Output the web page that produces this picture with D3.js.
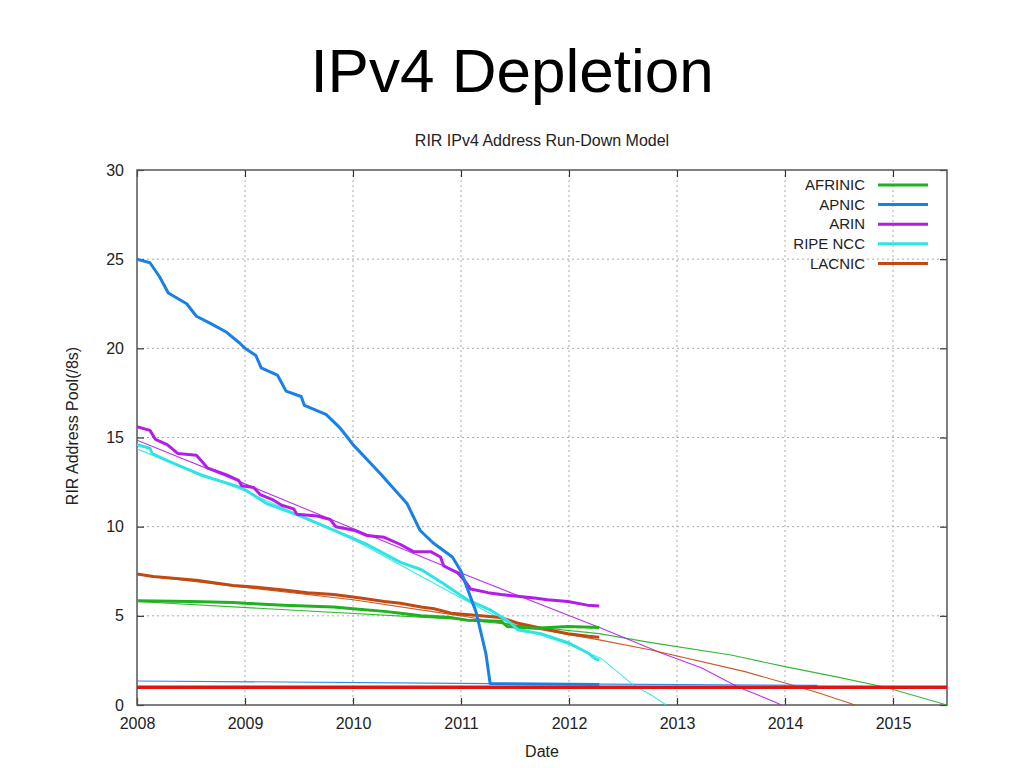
<!DOCTYPE html>
<html><head><meta charset="utf-8">
<script src="https://cdn.jsdelivr.net/npm/d3@7"></script>
<style>
body{margin:0;background:#fff;}
svg{display:block;font-family:"Liberation Sans",Arial,sans-serif;}
</style></head>
<body><svg id="c" width="1024" height="768"></svg>
<script>
// ---- data ----
const xTicks = [2008,2009,2010,2011,2012,2013,2014,2015];
const yTicks = [0,5,10,15,20,25,30];
const seriesNames = ["AFRINIC","APNIC","ARIN","RIPE NCC","LACNIC"];
const seriesColors = ["#1fb11f","#1a7fe6","#b21ee8","#2ee4e4","#c04a12"];

const afrinic = [[2008.0,5.85],[2008.5,5.8],[2008.89,5.75],[2009.0,5.7],[2009.36,5.6],[2009.82,5.5],[2010.0,5.4],[2010.29,5.25],[2010.44,5.15],[2010.63,5.0],[2010.91,4.9],[2011.06,4.75],[2011.37,4.7],[2011.43,4.4],[2011.68,4.3],[2011.99,4.4],[2012.28,4.35]];
const apnic = [[2008.0,25.0],[2008.12,24.8],[2008.21,24.0],[2008.29,23.1],[2008.46,22.5],[2008.55,21.8],[2008.68,21.4],[2008.83,20.9],[2008.95,20.3],[2009.0,20.0],[2009.1,19.6],[2009.15,18.9],[2009.3,18.5],[2009.38,17.6],[2009.52,17.3],[2009.55,16.8],[2009.75,16.3],[2009.87,15.6],[2009.95,15.0],[2010.0,14.6],[2010.25,13.0],[2010.5,11.3],[2010.62,9.8],[2010.74,9.1],[2010.92,8.3],[2011.0,7.5],[2011.14,5.2],[2011.23,2.9],[2011.27,1.2],[2012.28,1.15]];
const arin = [[2008.0,15.6],[2008.12,15.4],[2008.17,14.9],[2008.28,14.6],[2008.38,14.1],[2008.55,14.0],[2008.61,13.6],[2008.65,13.3],[2008.83,12.9],[2008.94,12.6],[2008.97,12.3],[2009.08,12.2],[2009.14,11.8],[2009.26,11.5],[2009.34,11.2],[2009.45,11.0],[2009.48,10.7],[2009.67,10.6],[2009.79,10.4],[2009.84,10.0],[2010.01,9.8],[2010.13,9.5],[2010.29,9.4],[2010.44,9.0],[2010.56,8.6],[2010.72,8.6],[2010.81,8.3],[2010.84,7.8],[2010.97,7.4],[2011.03,7.0],[2011.09,6.5],[2011.25,6.3],[2011.37,6.2],[2011.68,6.0],[2011.80,5.9],[2011.99,5.8],[2012.17,5.6],[2012.28,5.55]];
const ripe = [[2008.0,14.6],[2008.12,14.4],[2008.14,14.1],[2008.28,13.7],[2008.59,12.9],[2008.96,12.2],[2009.02,12.0],[2009.2,11.3],[2009.51,10.6],[2009.82,9.8],[2010.13,9.0],[2010.44,8.0],[2010.63,7.6],[2010.84,6.8],[2010.91,6.5],[2011.06,5.9],[2011.28,5.3],[2011.46,4.6],[2011.53,4.2],[2011.74,4.0],[2011.99,3.5],[2012.18,2.9],[2012.24,2.6],[2012.28,2.5]];
const lacnic = [[2008.0,7.35],[2008.15,7.2],[2008.55,7.0],[2008.89,6.7],[2009.02,6.65],[2009.36,6.45],[2009.58,6.3],[2009.82,6.2],[2010.07,6.0],[2010.29,5.8],[2010.44,5.7],[2010.63,5.5],[2010.75,5.4],[2010.91,5.15],[2011.37,4.9],[2011.52,4.6],[2011.83,4.2],[2011.99,4.0],[2012.18,3.85],[2012.28,3.8]];

// projection (model) curves
const afrinicModel = [[2008.0,5.8],[2011.0,4.8],[2012.28,4.0],[2012.76,3.5],[2013.5,2.8],[2014.0,2.15],[2014.5,1.55],[2014.93,1.0],[2015.5,0.0]];
const apnicModel = [[2008.0,1.35],[2011.27,1.2],[2012.3,1.17],[2014.3,1.1]];
const arinModel = [[2008.0,14.85],[2009.0,12.4],[2010.0,9.9],[2011.0,7.4],[2012.3,4.3],[2012.86,2.9],[2013.23,2.07],[2013.57,1.0],[2013.75,0.56],[2013.97,0.0]];
const ripeModel = [[2008.0,14.35],[2009.0,12.0],[2010.0,9.3],[2011.0,6.0],[2011.5,4.4],[2012.0,3.4],[2012.3,2.6],[2012.6,1.1],[2012.76,0.56],[2012.9,0.0]];
const lacnicModel = [[2008.0,7.3],[2010.0,5.9],[2011.0,5.0],[2012.28,3.65],[2012.76,3.08],[2013.63,1.87],[2014.0,1.23],[2014.3,0.7],[2014.65,0.0]];
const exhaustLevel = [[2008.0,1.0],[2015.5,1.0]];

// ---- layout ----
const svg = d3.select("#c");
const L=137, R=947, T=170, B=705;
const x = d3.scaleLinear().domain([2008,2015.5]).range([L,R]);
const y = d3.scaleLinear().domain([0,30]).range([B,T]);

svg.append("text").attr("x",512).attr("y",92).attr("text-anchor","middle")
  .attr("font-size",62).attr("fill","#000").text("IPv4 Depletion");
svg.append("text").attr("x",(L+R)/2).attr("y",146).attr("text-anchor","middle")
  .attr("font-size",16).attr("fill","#222").text("RIR IPv4 Address Run-Down Model");

// grid
const grid = svg.append("g").attr("stroke","#aaa").attr("stroke-dasharray","2,3").attr("stroke-width",1);
xTicks.filter(d=>d>2008).forEach(d=>grid.append("line").attr("x1",x(d)).attr("x2",x(d)).attr("y1",T).attr("y2",B));
yTicks.filter(d=>d>0 && d<30).forEach(d=>grid.append("line").attr("x1",L).attr("x2",R).attr("y1",y(d)).attr("y2",y(d)));

// axes (inward ticks, mirrored)
const fmt = d3.format("d");
const ax = svg.append("g").attr("transform",`translate(0,${B})`)
  .call(d3.axisBottom(x).tickValues(xTicks).tickFormat(fmt).tickSize(-7).tickPadding(13));
const axT = svg.append("g").attr("transform",`translate(0,${T})`)
  .call(d3.axisTop(x).tickValues(xTicks).tickFormat("").tickSize(-7));
const ay = svg.append("g").attr("transform",`translate(${L},0)`)
  .call(d3.axisLeft(y).tickValues(yTicks).tickFormat(fmt).tickSize(-7).tickPadding(13));
const ayR = svg.append("g").attr("transform",`translate(${R},0)`)
  .call(d3.axisRight(y).tickValues(yTicks).tickFormat("").tickSize(-7));
[ax,axT,ay,ayR].forEach(g=>{
  g.select(".domain").remove();
  g.selectAll("line").attr("stroke","#333").attr("stroke-width",1.2);
  g.selectAll("text").attr("font-size",16).attr("fill","#222").attr("font-family","Liberation Sans, Arial, sans-serif");
});
svg.append("rect").attr("x",L).attr("y",T).attr("width",R-L).attr("height",B-T)
  .attr("fill","none").attr("stroke","#555").attr("stroke-width",1.5);

svg.append("text").attr("x",(L+R)/2).attr("y",757).attr("text-anchor","middle")
  .attr("font-size",16).attr("fill","#222").text("Date");
svg.append("text").attr("transform","translate(78,426) rotate(-90)").attr("text-anchor","middle")
  .attr("font-size",16).attr("fill","#222")
  .text("RIR Address Pool(/8s)");

// lines
const line = d3.line().x(d=>x(d[0])).y(d=>y(d[1]));
const clip = svg.append("clipPath").attr("id","pc").append("rect")
  .attr("x",L).attr("y",T).attr("width",R-L).attr("height",B-T);
const plot = svg.append("g").attr("clip-path","url(#pc)");
const models = [afrinicModel, apnicModel, arinModel, ripeModel, lacnicModel];
const actual = [afrinic, apnic, arin, ripe, lacnic];
models.forEach((m,i)=>plot.append("path").datum(m).attr("d",line)
  .attr("fill","none").attr("stroke",seriesColors[i]).attr("stroke-width",1.1).attr("opacity",0.9));
plot.append("path").datum(exhaustLevel).attr("d",line)
  .attr("fill","none").attr("stroke","#e01414").attr("stroke-width",3.5);
[4,0,3,2,1].forEach(i=>plot.append("path").datum(actual[i]).attr("d",line)
  .attr("fill","none").attr("stroke",seriesColors[i]).attr("stroke-width",3)
  .attr("stroke-linejoin","round"));

// legend
const lg = svg.append("g");
seriesNames.forEach((n,i)=>{
  const yy = 185 + i*19.6;
  lg.append("text").attr("x",865).attr("y",yy).attr("dy","0.35em").attr("text-anchor","end")
    .attr("font-size",15).attr("fill","#222").text(n);
  lg.append("line").attr("x1",878).attr("x2",928).attr("y1",yy).attr("y2",yy)
    .attr("stroke",seriesColors[i]).attr("stroke-width",3);
});
</script></body></html>
